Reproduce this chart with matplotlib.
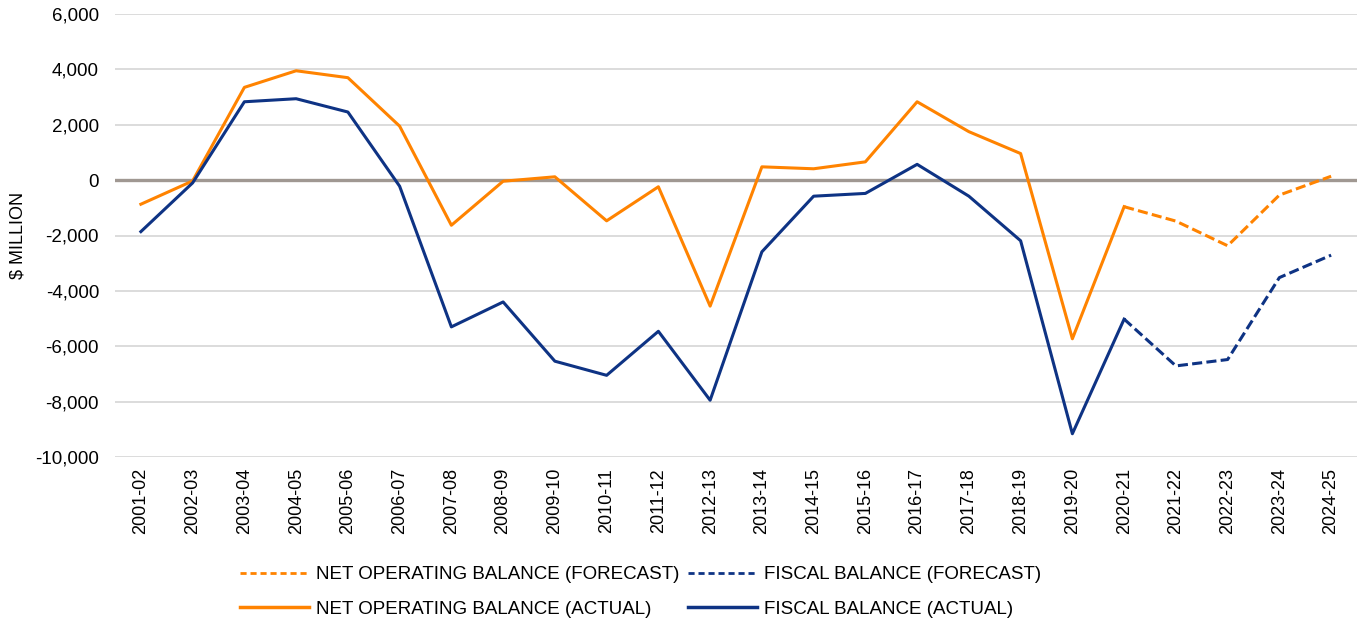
import matplotlib
matplotlib.use("Agg")
import matplotlib.pyplot as plt
from matplotlib.lines import Line2D
from matplotlib.ticker import FuncFormatter

plt.rcParams["font.family"] = ["Liberation Sans", "DejaVu Sans"]

years = ["2001-02", "2002-03", "2003-04", "2004-05", "2005-06", "2006-07",
         "2007-08", "2008-09", "2009-10", "2010-11", "2011-12", "2012-13",
         "2013-14", "2014-15", "2015-16", "2016-17", "2017-18", "2018-19",
         "2019-20", "2020-21", "2021-22", "2022-23", "2023-24", "2024-25"]

# $ million
net_operating = [-870, -30, 3350, 3950, 3700, 1950, -1630, -40, 120, -1470,
                 -240, -4550, 480, 410, 660, 2830, 1750, 960, -5730, -960,
                 -1480, -2370, -540, 140]
fiscal = [-1860, -100, 2830, 2940, 2460, -220, -5300, -4400, -6540, -7050,
          -5460, -7950, -2590, -580, -480, 570, -580, -2190, -9160, -5020,
          -6710, -6480, -3520, -2710]
last_actual = "2020-21"

ORANGE = "#FF8300"
NAVY = "#0E3384"
FS = 13.5

split = years.index(last_actual)
x = list(range(len(years)))

fig = plt.figure(figsize=(13.63, 6.2), dpi=100)
ax = fig.add_axes([115 / 1363, 1 - 457 / 620, (1357 - 115) / 1363, (457 - 14) / 620])

dash = (0, (3.3, 1.4))
ax.plot(x[:split + 1], net_operating[:split + 1], color=ORANGE, lw=2.2, zorder=3)
ax.plot(x[split:], net_operating[split:], color=ORANGE, lw=2.2, ls=dash, zorder=3)
ax.plot(x[:split + 1], fiscal[:split + 1], color=NAVY, lw=2.2, zorder=3)
ax.plot(x[split:], fiscal[split:], color=NAVY, lw=2.2, ls=dash, zorder=3)

ax.axhline(0, color="#A09892", lw=2.4, zorder=2)

ax.set_xlim(-0.5, len(years) - 0.5)
ax.set_ylim(-10000, 6000)
ax.set_yticks(range(-10000, 6001, 2000))
ax.yaxis.set_major_formatter(FuncFormatter(lambda v, _: f"{int(v):,}"))
ax.set_xticks(x)
ax.set_xticklabels(years, rotation=90, fontsize=13)
ax.tick_params(axis="both", length=0, labelsize=FS, colors="#000000")
ax.tick_params(axis="x", pad=8, labelsize=13)
ax.tick_params(axis="y", pad=11.5)
ax.grid(axis="y", color="#D9D9D9", lw=1.3, zorder=0)
for s in ax.spines.values():
    s.set_visible(False)

ax.set_ylabel("$ MILLION", fontsize=13)
ax.yaxis.set_label_coords(-0.071, 0.5)

handles = [
    Line2D([], [], color=ORANGE, lw=2, ls=(0, (2.2, 1.4))),
    Line2D([], [], color=ORANGE, lw=2.5),
    Line2D([], [], color=NAVY, lw=2, ls=(0, (2.2, 1.4))),
    Line2D([], [], color=NAVY, lw=2.5),
]
labels = ["NET OPERATING BALANCE (FORECAST)", "NET OPERATING BALANCE (ACTUAL)",
          "FISCAL BALANCE (FORECAST)", "FISCAL BALANCE (ACTUAL)"]
fig.legend(handles, labels, loc="upper left", bbox_to_anchor=(240 / 1363, 1 - 566 / 620),
           ncol=2, frameon=False, fontsize=FS, handlelength=3.7, handletextpad=0.37,
           columnspacing=0.43, labelspacing=0.92, borderaxespad=0, borderpad=0)

fig.savefig("out.png", dpi=100)
